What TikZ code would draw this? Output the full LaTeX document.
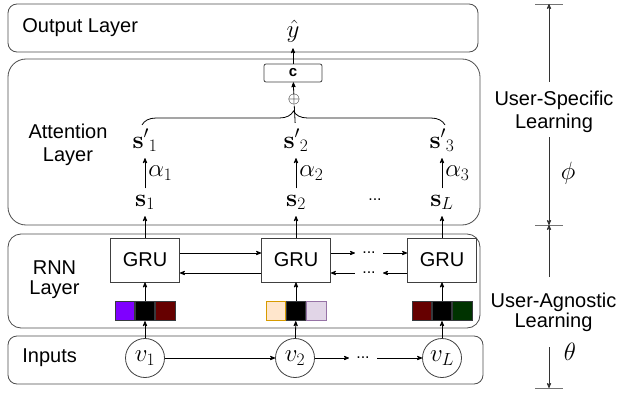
\RequirePackage{fix-cm}
\documentclass[tikz,border=0pt]{standalone}
\usepackage[no-math]{fontspec}
\setmainfont{Liberation Sans}
\usetikzlibrary{arrows,positioning,decorations.pathreplacing}

\definecolor{violetc}{HTML}{7F00FF}
\definecolor{maroonc}{HTML}{660000}
\definecolor{forestc}{HTML}{003300}
\definecolor{peachc}{HTML}{FFE6CC}
\definecolor{peachline}{HTML}{D79B00}
\definecolor{lilacc}{HTML}{E1D5E7}
\definecolor{lilacline}{HTML}{9673A6}
\definecolor{edgec}{HTML}{36393D}

\tikzset{
  big/.style={font=\fontsize{20}{23.5}\selectfont},
  mth/.style={font=\fontsize{25}{28}\selectfont},
  layer/.style={draw=black!70, line width=0.8pt, rounded corners=9pt, inner sep=0pt},
  gru/.style={big, draw=black!75, line width=0.8pt, minimum width=69pt, minimum height=44pt, inner sep=0pt},
  sq/.style={draw=edgec, line width=0.8pt, minimum size=19.5pt, inner sep=0pt},
  var/.style={mth, circle, draw=black!75, line width=0.8pt, minimum size=39pt, inner sep=0pt},
  vec/.style={mth, anchor=base, inner sep=6pt},
  gap/.style={font=\fontsize{16}{18}\selectfont, inner sep=7pt},
  tick/.style={draw=black!55, line width=0.8pt},
}

\begin{document}
\begin{tikzpicture}[x=1pt, y=-1pt, >=stealth', line width=0.8pt, node distance=0pt]
\useasboundingbox (0,0) rectangle (618,393);

% the four layers
\node[layer, minimum width=470pt, minimum height=48pt] (outL) at (243,28) {};
\node[layer, rounded corners=18pt, minimum width=472pt, minimum height=166pt] (attL) at (244,142) {};
\node[layer, rounded corners=13pt, minimum width=472pt, minimum height=94pt] (rnnL) at (244,281) {};
\node[layer, minimum width=475pt, minimum height=48pt] (inpL) at (245.5,360) {};

\node[big, anchor=west, inner sep=0pt] (outT) at (22,28) {Output Layer};
\node[big, align=center, inner sep=0pt] (attT) at (68,145) {Attention\\Layer};
\node[font=\fontsize{20}{20}\selectfont, align=center, inner sep=0pt] (rnnT) at (54.5,280) {RNN\\Layer};
\node[big, anchor=west, inner sep=0pt] (inpT) at (22,358) {Inputs};

% inputs
\node[var] (v1) at (145,358) {$v_1$};
\node[var] (v2) at (295,358) {$v_2$};
\node[var] (vL) at (442,358) {$v_L$};
\node[gap] (vd) at (363,358) {...};
\draw[->] (v1) -- (v2);
\draw[->] (v2) -- (vd);
\draw[->] (vd) -- (vL);

% embeddings
\node[sq, fill=black] (q1b) at (145,311) {};
\node[sq, fill=violetc, left=of q1b] (q1a) {};
\node[sq, fill=maroonc, right=of q1b] (q1c) {};
\node[sq, fill=black] (q2b) at (296,311) {};
\node[sq, fill=peachc, draw=peachline, left=of q2b] (q2a) {};
\node[sq, fill=lilacc, draw=lilacline, right=of q2b] (q2c) {};
\node[sq, fill=black] (q3b) at (442,311) {};
\node[sq, fill=maroonc, left=of q3b] (q3a) {};
\node[sq, fill=forestc, right=of q3b] (q3c) {};

% recurrent cells
\node[gru] (g1) at (145,260) {GRU};
\node[gru] (g2) at (296,260) {GRU};
\node[gru] (g3) at (442,260) {GRU};
\node[gap] (du) at (369,253) {...};
\node[gap] (dl) at (369,273) {...};

\foreach \v/\i in {v1/1,v2/2,vL/3} {
  \draw[->] (\v) -- (q\i b);
  \draw[->] (q\i b) -- (g\i);
}
\draw[->] ([yshift=7pt]g1.east) -- ([yshift=7pt]g2.west);
\draw[->] ([yshift=-13pt]g2.west) -- ([yshift=-13pt]g1.east);
\draw[->] ([yshift=7pt]g2.east) -- (du);
\draw[->] (du) -- ([yshift=7pt]g3.west);
\draw[->] ([yshift=-13pt]g3.west) -- (dl);
\draw[->] (dl) -- ([yshift=-13pt]g2.east);

% attention
\node[vec] (s1) at (145,206) {$\mathbf{s}_1$};
\node[vec] (s2) at (296,206) {$\mathbf{s}_2$};
\node[vec] (sL) at (442,206) {$\mathbf{s}_L$};
\node[gap] (sd) at (375,200) {...};
\node[vec] (p1) at (145,148) {$\mathbf{s'}_1$};
\node[vec] (p2) at (296,148) {$\mathbf{s'}_2$};
\node[vec] (p3) at (442,148) {$\mathbf{s'}_3$};

\draw[->] (g1) -- (s1);
\draw[->] (g2) -- (s2);
\draw[->] (g3) -- (sL);
\draw[->] (s1) -- node[mth, right, inner sep=3pt] {$\alpha_1$} (p1);
\draw[->] (s2) -- node[mth, right, inner sep=3pt] {$\alpha_2$} (p2);
\draw[->] (sL) -- node[mth, right, inner sep=3pt] {$\alpha_3$} (p3);

\coordinate (brL) at (142,125);
\coordinate (brR) at (445,125);
\draw[decorate, decoration={brace, amplitude=14pt}] (brL) -- (brR);

\node[font=\fontsize{16}{18}\selectfont, inner sep=0pt] (sum) at (294,100) {$\oplus$};
\node[draw=black!75, rounded corners=2pt, minimum width=58pt, minimum height=18pt, inner sep=0pt,
      font=\fontsize{15}{18}\selectfont\bfseries] (ctx) at (293,73) {c};
\node[vec, inner sep=5pt] (yhat) at (293,38) {$\hat{y}$};
\draw (p2) -- (sum);
\draw[->] (sum) -- (ctx);
\draw[->] (ctx) -- (yhat);

% learning scopes
\coordinate (tTop) at (549,4);
\coordinate (tMid) at (549,225);
\coordinate (tBot) at (549,388);
\foreach \t in {tTop,tMid,tBot}
  \draw[tick] ([xshift=-14pt]\t) -- ([xshift=14pt]\t);

\node[big, align=center, inner sep=0pt] (spec) at (554,112) {User-Specific\\Learning};
\node[font=\fontsize{20}{20}\selectfont, align=center, inner sep=0pt] (agn) at (553.5,312.5) {User-Agnostic\\Learning};
\coordinate (a1) at (549,82);
\coordinate (a2) at (549,137);
\coordinate (a3) at (549,277);
\coordinate (a4) at (549,347);
\draw[->, black!80] (a1) -- (tTop);
\draw[->, black!80] (a2) -- (tMid);
\draw[->, black!80] (a3) -- (tMid);
\draw[->, black!80] (a4) -- (tBot);
\node[mth] (phi) at (568,173) {$\phi$};
\node[mth] (theta) at (570,352) {$\theta$};

\end{tikzpicture}
\end{document}
